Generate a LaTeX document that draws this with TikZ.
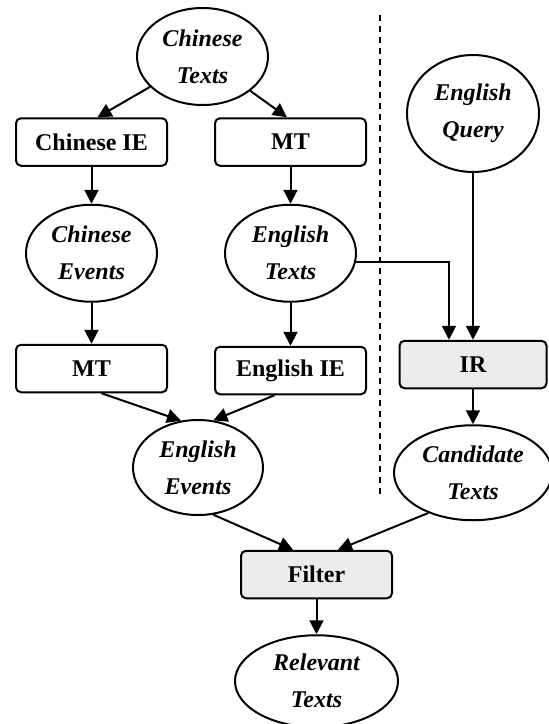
\documentclass[tikz,border=0pt]{standalone}
\usepackage{fontspec}
\setmainfont{Liberation Serif}
\usepackage{tikz}
\usetikzlibrary{shapes.geometric, arrows.meta, positioning}
\tikzset{
    textdata/.style={ellipse, draw, line width=1pt, inner sep=0pt, minimum width=65.5pt, minimum height=48.5pt, align=center, font=\fontsize{12}{18.5}\selectfont\bfseries\itshape},
    process/.style={rectangle, rounded corners=2.5pt, draw, line width=1pt, minimum width=75.5pt, minimum height=23.75pt, font=\fontsize{12}{14}\selectfont\bfseries},
    retrieval/.style={process, fill=gray!15, minimum width=73.5pt},
    arrow/.style={-{Triangle[width=7pt,length=7pt]}, line width=1pt}
}

\begin{document}
\begin{tikzpicture}[x=0.5pt, y=-0.5pt]
    \useasboundingbox (0,0) rectangle (549,724);
    % left side: extraction on chinese / translated texts
    \node (ctexts) [textdata] at (202.5,56.5) {Chinese\\Texts};
    \node (cie) [process] at (91.5,142) {Chinese IE};
    \node (mtone) [process, right=23pt of cie] {MT};
    \node (cevents) [textdata, below=18.5pt of cie] {Chinese\\Events};
    \node (etexts) [textdata, below=18.5pt of mtone] {English\\Texts};
    \node (mttwo) [process, below=20.5pt of cevents] {MT};
    \node (eie) [process, below=21.5pt of etexts] {English IE};
    \node (eevents) [textdata, minimum width=65pt, minimum height=47.5pt] at (198,467.5) {English\\Events};
    % right side: retrieval
    \node (equery) [textdata, minimum width=66pt, minimum height=58.5pt] at (473,113.5) {English\\Query};
    \node (ir) [retrieval] at (473,364.5) {IR};
    \node (cand) [textdata, minimum width=79pt, minimum height=47.5pt, below=17.5pt of ir] {Candidate\\Texts};
    % bottom
    \node (filter) [retrieval, minimum width=75.5pt] at (316.5,574.5) {Filter};
    \node (relev) [textdata, minimum width=81.5pt, minimum height=46pt, below=17.5pt of filter] {Relevant\\Texts};

    \draw[line width=1pt, dash pattern=on 3pt off 2.5pt] (380,15) -- (380,498);

    \draw[arrow] (ctexts) -- ([xshift=3pt]cie.north);
    \draw[arrow] (ctexts) -- ([xshift=-1.75pt]mtone.north);
    \draw[arrow] (cie) -- (cevents);
    \draw[arrow] (mtone) -- (etexts);
    \draw[arrow] (cevents) -- (mttwo);
    \draw[arrow] (etexts) -- (eie);
    \draw[arrow] ([xshift=5pt]mttwo.south) -- (eevents.110);
    \draw[arrow] ([xshift=-8pt]eie.south) -- (eevents.72);
    \draw[arrow] (etexts.-8) -| ([xshift=-12pt]ir.north);
    \draw[arrow] (equery) -- (ir);
    \draw[arrow] (ir) -- (ir |- cand.north);
    \draw[arrow] (eevents.-72) -- ([xshift=-11.75pt]filter.north);
    \draw[arrow] (cand.222) -- ([xshift=10.75pt]filter.north);
    \draw[arrow] (filter) -- (relev);
\end{tikzpicture}
\end{document}
